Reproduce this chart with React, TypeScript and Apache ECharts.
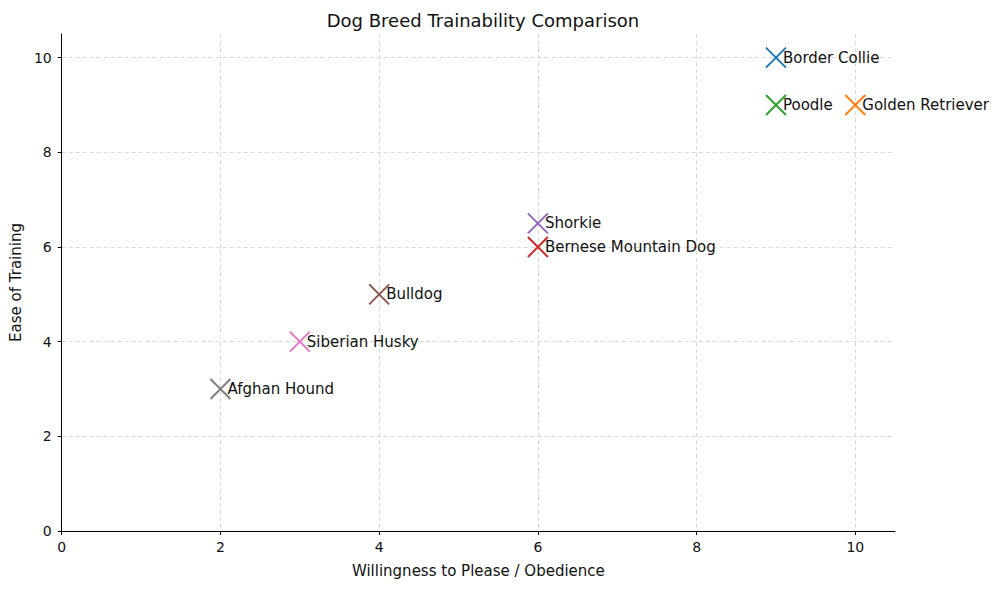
import React, { useEffect, useRef } from "react";
import * as echarts from "echarts";

const breeds = [
  "Border Collie",
  "Golden Retriever",
  "Poodle",
  "Bernese Mountain Dog",
  "Shorkie",
  "Bulldog",
  "Siberian Husky",
  "Afghan Hound",
];
const obedience = [9, 10, 9, 6, 6, 4, 3, 2];
const easeOfTraining = [10, 9, 9, 6, 6.5, 5, 4, 3];
const colors = [
  "#1f77b4",
  "#ff7f0e",
  "#2ca02c",
  "#d62728",
  "#9467bd",
  "#8c564b",
  "#e377c2",
  "#7f7f7f",
];
const tickValues = [0, 2, 4, 6, 8, 10];

const FONT = "DejaVu Sans";
const CROSS = "path://M0,0L10,10M10,0L0,10";

export default function App() {
  const ref = useRef<HTMLDivElement>(null);

  useEffect(() => {
    if (!ref.current) return;
    const chart = echarts.init(ref.current, null, { renderer: "svg" });

    const axisCommon = {
      min: 0,
      max: 10.5,
      interval: 2,
      axisLine: { show: true, lineStyle: { color: "#000", width: 1 } },
      axisTick: {
        show: true,
        length: 4,
        inside: false,
        customValues: tickValues,
        lineStyle: { color: "#000" },
      },
      axisLabel: {
        fontFamily: FONT,
        fontSize: 14,
        color: "#111",
        customValues: tickValues,
      },
      splitLine: {
        show: true,
        lineStyle: { color: "#d0d0d0", type: [4, 3] as any, width: 0.8 },
      },
      nameLocation: "middle" as const,
      nameTextStyle: { fontFamily: FONT, fontSize: 15, color: "#111" },
    };

    chart.setOption({
      animation: false,
      backgroundColor: "#fff",
      title: {
        text: "Dog Breed Trainability Comparison",
        left: 478,
        textAlign: "center",
        top: 6,
        textStyle: { fontFamily: FONT, fontSize: 18, fontWeight: "normal", color: "#111" },
      },
      grid: { left: 61, right: 105, top: 34, bottom: 58 },
      xAxis: {
        type: "value",
        ...axisCommon,
        name: "Willingness to Please / Obedience",
        nameGap: 32,
        axisLabel: { ...axisCommon.axisLabel, margin: 9 },
      },
      yAxis: {
        type: "value",
        ...axisCommon,
        name: "Ease of Training",
        nameGap: 36,
        axisLabel: { ...axisCommon.axisLabel, margin: 10 },
      },
      series: breeds.map((name, i) => ({
        type: "scatter",
        name,
        data: [[obedience[i], easeOfTraining[i]]],
        symbol: CROSS,
        symbolSize: 20,
        itemStyle: {
          color: "rgba(0,0,0,0)",
          borderColor: colors[i],
          borderWidth: 2,
          opacity: 1,
        },
        label: {
          show: true,
          position: "right",
          distance: -4,
          formatter: name,
          fontFamily: FONT,
          fontSize: 15,
          color: "#111",
        },
      })),
    });

    return () => chart.dispose();
  }, []);

  return <div ref={ref} style={{ width: 1000, height: 589, margin: -8 }} />;
}
